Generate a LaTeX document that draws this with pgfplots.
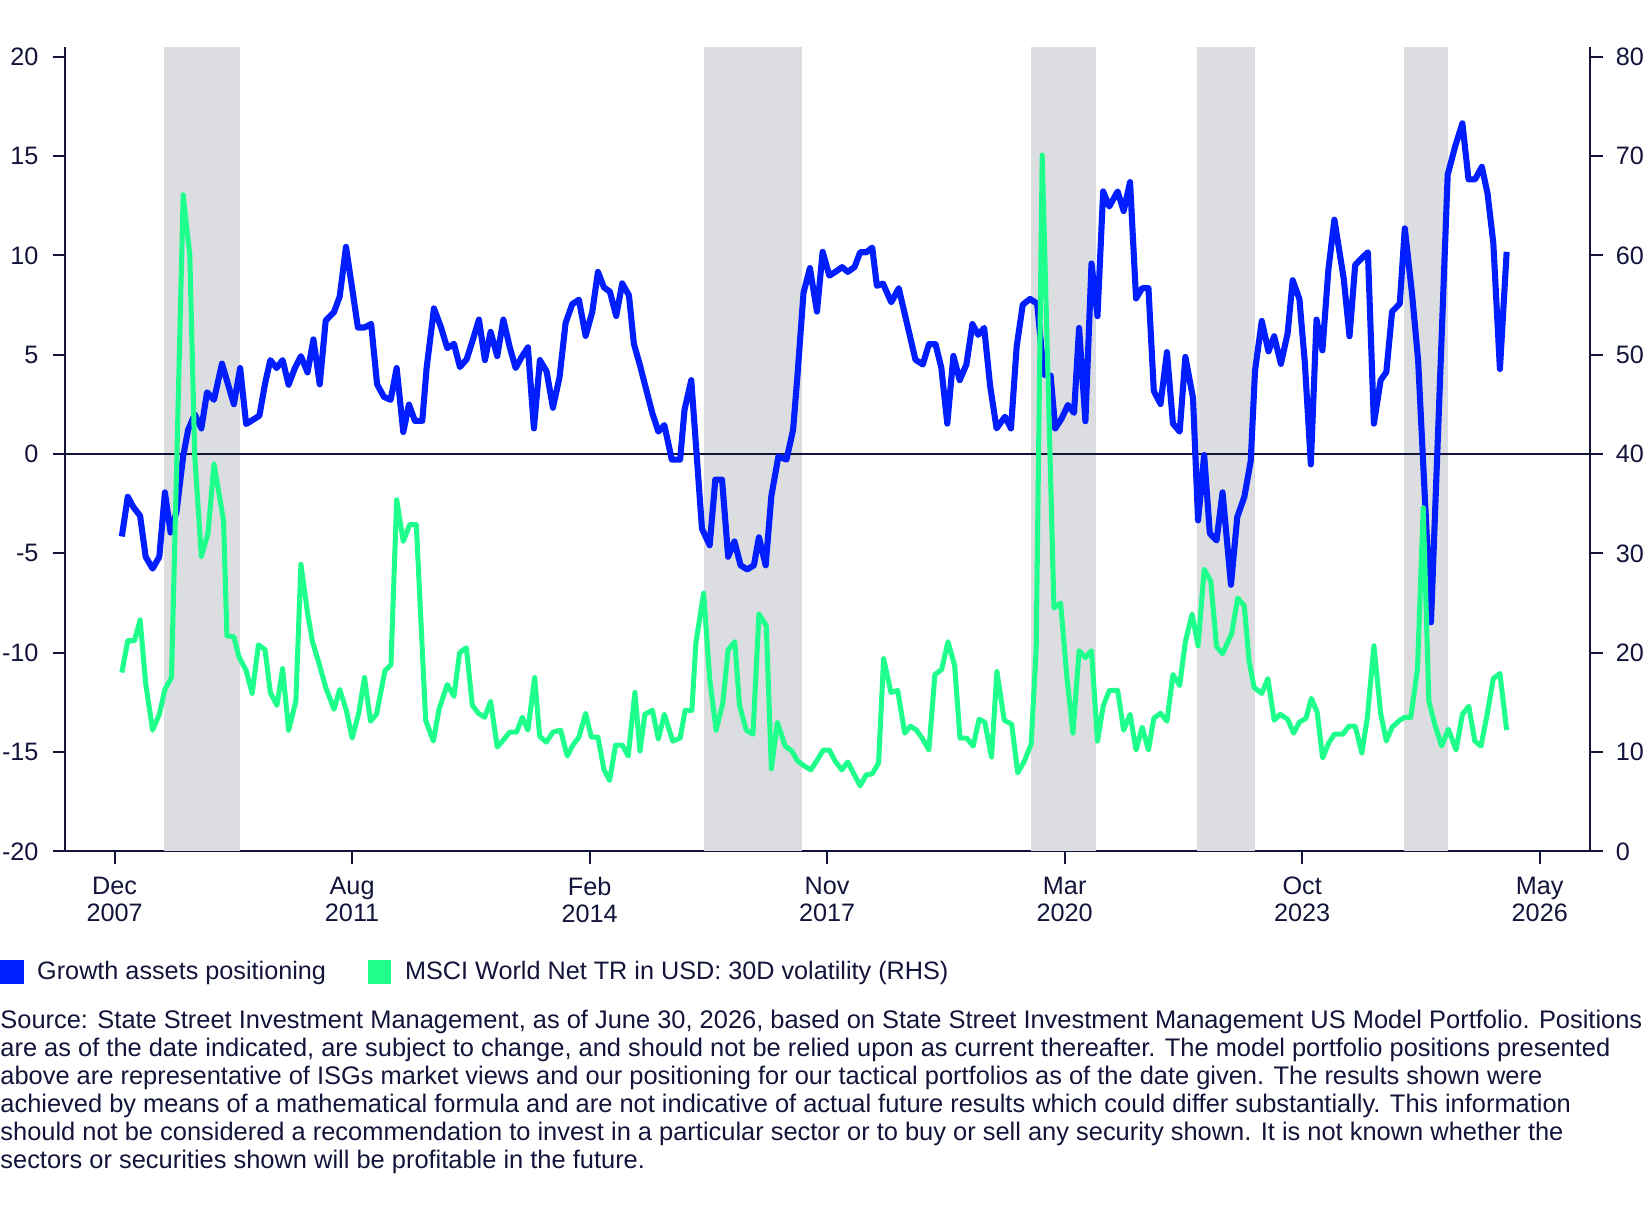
\documentclass[border=0pt]{standalone}
\usepackage{pgfplots}
\pgfplotsset{compat=1.18}
\usepackage{pgfplotstable}
\usepackage{fontspec}
\setmainfont{Liberation Sans}

\definecolor{navy}{HTML}{12143A}
\definecolor{posblue}{HTML}{001EFF}
\definecolor{volgreen}{HTML}{1EFF8C}
\definecolor{band}{HTML}{DCDDE1}

% x is the position along the time axis (Dec 2007 tick = 109, May 2026 tick = 1465)
\pgfplotstableread{
x y
115.9 -4.15
121.6 -2.15
126.9 -2.67
133.3 -3.11
138.6 -5.17
145.2 -5.77
151.6 -5.17
156.9 -1.93
162.3 -3.95
168.0 -2.89
174.3 -0.11
179.0 1.22
185.3 2.00
191.6 1.29
197.0 3.11
203.6 2.73
211.2 4.55
222.5 2.51
228.5 4.33
234.2 1.51
246.8 1.93
252.2 3.55
257.2 4.73
263.2 4.33
268.9 4.73
274.6 3.49
280.6 4.33
286.3 4.93
292.6 4.11
298.2 5.77
304.2 3.51
309.9 6.72
317.8 7.15
323.2 7.93
329.2 10.43
335.1 8.33
340.5 6.37
346.8 6.37
353.1 6.55
358.8 3.51
365.3 2.88
371.7 2.73
377.4 4.33
383.7 1.11
389.1 2.49
394.8 1.67
401.8 1.67
405.9 4.33
412.9 7.33
419.2 6.44
425.6 5.33
431.9 5.55
437.6 4.38
444.0 4.77
450.0 5.77
455.7 6.77
461.4 4.73
466.8 6.15
473.1 4.93
478.9 6.77
484.9 5.40
490.6 4.33
496.3 4.88
502.3 5.37
508.0 1.29
513.7 4.73
520.1 4.15
526.1 2.33
532.4 3.88
538.1 6.59
544.5 7.55
550.8 7.77
557.2 5.95
563.5 7.15
568.9 9.17
574.6 8.39
580.3 8.17
586.3 6.95
592.0 8.59
598.4 7.99
603.1 5.55
608.9 4.47
615.2 3.17
620.7 2.05
626.4 1.13
632.1 1.46
639.2 -0.28
647.1 -0.28
651.3 2.23
657.7 3.72
667.9 -3.76
675.2 -4.59
680.6 -1.29
687.0 -1.29
692.8 -5.17
698.8 -4.40
704.6 -5.60
710.9 -5.81
717.3 -5.60
722.1 -4.19
728.5 -5.60
733.9 -2.12
740.6 -0.12
748.3 -0.28
754.6 1.22
758.8 4.00
764.5 8.11
770.6 9.36
777.3 7.17
782.7 10.18
789.1 8.98
794.8 9.17
801.2 9.41
806.6 9.17
813.0 9.41
818.4 10.16
824.2 10.16
829.9 10.39
834.3 8.47
840.1 8.58
848.0 7.64
855.1 8.35
871.0 4.75
878.0 4.51
883.8 5.53
890.1 5.53
895.6 4.35
901.3 1.53
907.1 4.94
913.1 3.72
919.5 4.51
925.2 6.54
930.7 6.00
936.4 6.35
942.1 3.41
948.2 1.29
956.2 1.88
961.9 1.29
967.3 5.41
973.1 7.52
980.1 7.81
986.8 7.57
993.2 4.00
999.6 3.95
1004.0 1.29
1009.8 1.76
1016.1 2.47
1021.9 2.07
1026.7 6.35
1032.7 1.65
1038.5 9.59
1044.2 6.94
1049.6 13.22
1055.4 12.46
1063.4 13.22
1069.1 12.23
1075.2 13.69
1080.9 7.83
1086.7 8.35
1092.7 8.35
1097.8 3.17
1104.2 2.52
1110.3 5.13
1116.0 1.53
1122.4 1.13
1127.8 4.89
1135.1 2.82
1139.9 -3.34
1145.7 -0.05
1151.1 -4.00
1157.5 -4.35
1163.2 -1.93
1171.2 -6.58
1177.2 -3.17
1183.9 -2.16
1190.0 -0.35
1194.1 4.19
1200.5 6.70
1206.9 5.17
1212.3 5.93
1218.7 4.54
1225.1 6.07
1229.9 8.75
1236.3 7.81
1241.5 4.59
1247.2 -0.52
1252.6 6.77
1258.2 5.22
1263.9 9.29
1269.6 11.80
1278.5 8.82
1284.0 5.93
1289.4 9.52
1295.1 9.83
1301.5 10.16
1307.2 1.53
1313.6 3.72
1319.0 4.12
1324.5 7.17
1331.8 7.57
1336.6 11.36
1343.6 8.00
1349.3 4.70
1361.5 -8.47
1377.4 14.06
1384.4 15.47
1391.4 16.65
1397.2 13.83
1403.5 13.83
1409.9 14.46
1415.3 13.12
1420.8 10.63
1427.1 4.28
1433.5 10.18
}\growth

\pgfplotstableread{
x y
115.9 18.0
121.6 21.2
127.9 21.2
133.3 23.3
138.6 16.9
145.2 12.2
151.6 13.8
156.9 16.3
163.2 17.5
174.3 66.1
180.6 60.0
185.3 39.8
191.6 29.7
197.9 32.0
203.6 39.0
212.7 33.3
215.9 21.7
222.5 21.6
227.3 19.6
234.2 18.2
239.9 15.9
245.9 20.8
252.2 20.3
257.2 16.0
263.5 14.7
268.9 18.4
274.6 12.2
281.5 15.1
286.3 28.9
292.6 24.0
297.3 21.1
303.6 18.9
309.9 16.5
317.8 14.3
323.2 16.3
329.5 14.2
335.1 11.4
341.5 14.0
346.8 17.5
352.5 13.1
358.2 13.8
366.3 18.2
372.0 18.8
377.4 35.4
383.7 31.2
389.8 32.9
396.1 32.9
405.0 13.2
412.3 11.1
417.7 14.3
425.6 16.8
431.9 15.6
437.3 20.0
443.7 20.5
449.4 14.7
455.1 13.9
461.1 13.5
466.8 15.1
473.1 10.5
478.9 11.2
484.9 12.0
491.5 12.0
496.9 13.5
502.3 12.2
508.7 17.5
513.4 11.6
519.8 11.0
526.1 12.0
533.4 12.2
539.7 9.6
545.1 10.7
550.8 11.5
557.2 13.9
562.6 11.5
568.9 11.5
574.6 8.25
580.0 7.14
585.7 10.7
592.0 10.7
597.7 9.6
604.1 16.0
608.9 10.1
613.6 13.8
620.7 14.2
626.4 11.3
632.1 13.8
640.1 11.1
647.1 11.4
651.9 14.2
658.3 14.2
662.1 21.0
669.5 26.0
675.2 17.4
681.3 12.2
687.7 14.9
692.8 20.3
699.1 21.1
703.6 14.7
710.0 12.2
716.4 11.8
722.1 23.9
729.1 22.7
733.9 8.3
739.6 13.0
747.0 10.6
753.4 10.1
758.8 9.1
765.2 8.6
771.5 8.2
777.0 9.1
783.3 10.2
789.1 10.2
794.5 9.1
800.9 8.2
806.6 9.0
812.4 7.8
818.4 6.6
824.2 7.7
829.9 7.8
835.9 8.9
840.7 19.4
847.7 16.0
854.1 16.2
860.8 11.9
866.2 12.6
872.0 12.2
877.4 11.4
883.8 10.2
889.5 17.8
895.9 18.3
902.0 21.1
908.3 18.7
913.4 11.4
919.8 11.4
925.9 10.6
931.6 13.3
937.0 13.0
943.4 9.5
948.5 18.1
955.5 13.2
962.6 12.8
968.3 7.9
974.7 9.1
981.1 10.8
985.9 20.5
991.6 70.1
1002.8 24.5
1009.1 25.0
1015.2 17.4
1020.9 11.9
1026.7 20.2
1032.7 19.5
1038.5 20.2
1044.2 11.1
1049.6 14.6
1055.4 16.2
1063.4 16.2
1069.1 12.2
1075.2 13.8
1080.9 10.2
1086.7 12.5
1092.7 10.2
1097.8 13.4
1104.2 13.9
1110.3 13.1
1116.0 17.8
1122.4 16.7
1127.8 21.1
1134.2 23.9
1139.9 20.7
1145.7 28.4
1152.0 27.2
1157.5 20.6
1163.2 19.9
1171.8 21.9
1177.6 25.5
1183.9 24.7
1188.4 19.2
1193.2 16.5
1200.5 15.9
1206.3 17.4
1212.3 13.2
1218.1 13.8
1225.1 13.3
1230.8 11.9
1236.3 13.0
1242.6 13.4
1247.7 15.4
1253.2 14.0
1258.4 9.4
1264.2 10.9
1269.6 11.8
1277.6 11.8
1283.3 12.6
1289.4 12.6
1295.7 9.9
1300.9 13.4
1307.2 20.7
1313.6 13.9
1319.0 11.1
1324.5 12.5
1331.8 13.2
1336.6 13.5
1342.3 13.5
1348.7 18.4
1354.1 34.6
1359.5 15.1
1365.3 12.7
1371.7 10.6
1378.0 12.3
1385.4 10.2
1391.4 13.8
1397.5 14.6
1403.2 11.1
1409.1 10.6
1415.3 14.0
1420.8 17.4
1427.1 17.9
1433.5 12.2
}\vol

\pgfplotsset{
  basestyle/.style={
    at={(31pt,-405pt)}, anchor=south west,
    width=725.5pt, height=382.5pt, scale only axis,
    xmin=62, xmax=1513,
    axis line style={navy, line width=1pt, -},
    tick style={navy, line width=1pt},
    major tick length=6pt,
    tick align=outside,
    tick label style={font=\fontsize{12}{13}\selectfont, text=navy, inner sep=0pt},
    xticklabel style={yshift=-6pt},
  },
}

\begin{document}
\begin{tikzpicture}
\path[use as bounding box] (0pt,0pt) rectangle (784pt,-581.5pt);

\begin{axis}[basestyle,
  axis x line*=bottom, axis y line*=left,
  ymin=-20, ymax=20.476,
  ytick={-20,-15,-10,-5,0,5,10,15,20},
  yticklabels={-20,-15,-10,-5,0,5,10,15,20},
  yticklabel style={xshift=-6.5pt},
  xtick={109,335,561,787,1013,1239,1465},
  xticklabels={{Dec\\2007},{Aug\\2011},{Feb\\2014},{Nov\\2017},{Mar\\2020},{Oct\\2023},{May\\2026}},
  xticklabel style={align=center},
  ]
  \fill[band] (156,-20) rectangle (228,20.476);
  \fill[band] (670,-20) rectangle (763,20.476);
  \fill[band] (981,-20) rectangle (1043,20.476);
  \fill[band] (1139,-20) rectangle (1194,20.476);
  \fill[band] (1335.5,-20) rectangle (1377.5,20.476);
  \addplot[navy, line width=0.9pt] coordinates {(62,0) (1513,0)};
  \addplot[posblue, line width=2.9pt, line join=round] table[x=x, y=y] {\growth};
\end{axis}

\begin{axis}[basestyle,
  axis x line=none, axis y line*=right,
  ymin=0, ymax=80.95,
  ytick={0,10,20,30,40,50,60,70,80},
  yticklabels={0,10,20,30,40,50,60,70,80},
  yticklabel style={xshift=6pt},
  ]
  \addplot[volgreen, line width=2.4pt, line join=round] table[x=x, y=y] {\vol};
\end{axis}

% legend
\fill[posblue] (0pt,-456.5pt) rectangle (11.2pt,-468.3pt);
\node[anchor=base west, inner sep=0pt, text=navy, font=\fontsize{12}{14}\selectfont]
  at (17.5pt,-465.8pt) {Growth assets positioning};
\fill[volgreen] (175pt,-456.5pt) rectangle (186.2pt,-468.3pt);
\node[anchor=base west, inner sep=0pt, text=navy, font=\fontsize{12}{14}\selectfont]
  at (192.5pt,-465.8pt) {MSCI World Net TR in USD: 30D volatility (RHS)};

% source note
\begin{scope}[every node/.style={anchor=base west, inner sep=0pt, text=navy, font=\fontsize{12.1}{14}\selectfont}]
\node at (0pt,-489.5pt) {Source: State Street Investment Management, as of June 30, 2026, based on State Street Investment Management US Model Portfolio. Positions};
\node at (0pt,-502.8pt) {are as of the date indicated, are subject to change, and should not be relied upon as current thereafter. The model portfolio positions presented};
\node at (0pt,-516.1pt) {above are representative of ISGs market views and our positioning for our tactical portfolios as of the date given. The results shown were};
\node at (0pt,-529.4pt) {achieved by means of a mathematical formula and are not indicative of actual future results which could differ substantially. This information};
\node at (0pt,-542.7pt) {should not be considered a recommendation to invest in a particular sector or to buy or sell any security shown. It is not known whether the};
\node at (0pt,-556pt) {sectors or securities shown will be profitable in the future.};
\end{scope}
\end{tikzpicture}
\end{document}
